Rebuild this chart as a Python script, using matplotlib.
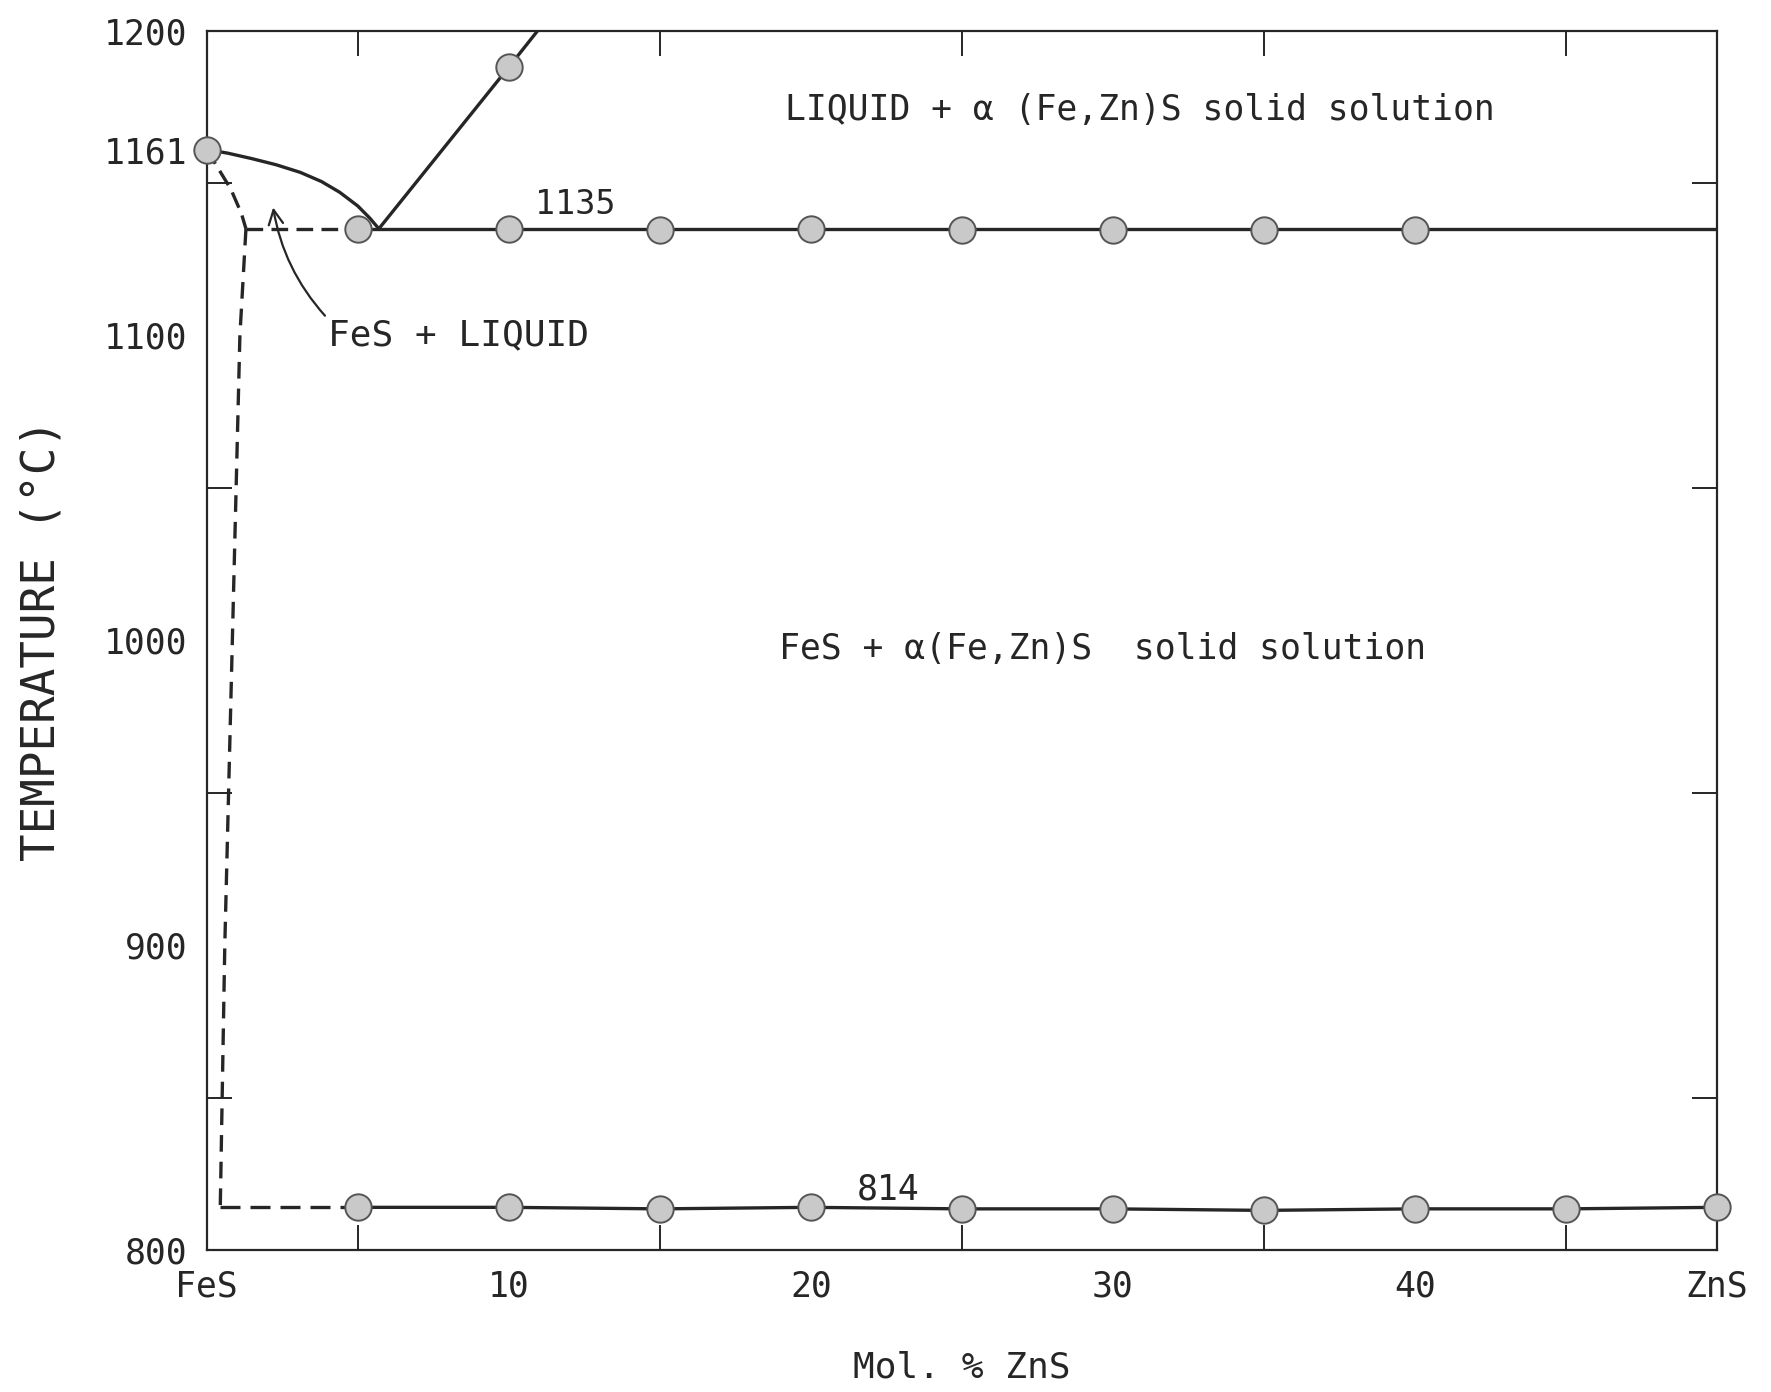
import matplotlib.pyplot as plt
import numpy as np

# --- data ---
# FeS-side liquidus (curved) from the FeS melting point down to the eutectic
feS_liq_x = [0.0, 0.7, 1.5, 2.3, 3.1, 3.8, 4.4, 5.0, 5.4, 5.7]
feS_liq_y = [1161, 1159.8, 1158, 1156, 1153.5, 1150.5, 1147, 1142.5, 1138.5, 1135]

# ZnS-side liquidus (straight) from the eutectic upward
zns_liq_x = [5.7, 10.0, 11.0]
zns_liq_y = [1135, 1188, 1200.5]

# dashed solidus of FeS
sol_x = [0.0, 0.8, 1.15, 1.3]
sol_y = [1161, 1148, 1140, 1135]

# dashed solvus going down from the eutectic
solvus_x = [1.3, 1.1, 0.85, 0.6, 0.45]
solvus_y = [1135, 1100, 1000, 900, 814]

# experimental points
melt_x = [0.0]
melt_y = [1161]
liq_pt_x = [10.0]
liq_pt_y = [1188]
eut_x = [5, 10, 15, 20, 25, 30, 35, 40]
eut_y = [1135, 1135, 1134.5, 1135, 1134.5, 1134.5, 1134.5, 1134.5]
low_x = [5, 10, 15, 20, 25, 30, 35, 40, 45, 50]
low_y = [814, 814, 813.5, 814, 813.5, 813.5, 813, 813.5, 813.5, 814]

eut_T = 1135
low_T = 814

x_ticks = [0, 10, 20, 30, 40, 50]
x_labels = ["FeS", "10", "20", "30", "40", "ZnS"]
y_ticks = [800, 900, 1000, 1100, 1161, 1200]
y_labels = ["800", "900", "1000", "1100", "1161", "1200"]

ink = "#262626"
dot_face = "#c9c9c9"
dot_edge = "#555555"
lw = 2.4

plt.rcParams['font.family'] = ['DejaVu Sans Mono', 'DejaVu Sans']

fig = plt.figure(figsize=(17.71, 13.92), dpi=100)
ax = fig.add_axes([0.1167, 0.102, 0.8528, 0.876])
ax.set_xlim(0, 50)
ax.set_ylim(800, 1200)

for s in ax.spines.values():
    s.set_color(ink)
    s.set_linewidth(1.6)

# lines
ax.plot(feS_liq_x, feS_liq_y, color=ink, lw=lw)
ax.plot(zns_liq_x, zns_liq_y, color=ink, lw=lw)
ax.plot(sol_x, sol_y, color=ink, lw=lw, dashes=(5, 2.5))
ax.plot(solvus_x, solvus_y, color=ink, lw=lw, dashes=(5, 3))
ax.plot([sol_x[-1], eut_x[0]], [eut_T, eut_T], color=ink, lw=lw, dashes=(5, 2.5))
ax.plot([eut_x[0], 50], [eut_T, eut_T], color=ink, lw=lw)
ax.plot([solvus_x[-1], low_x[0]], [low_T, low_T], color=ink, lw=lw, dashes=(6, 3))
ax.plot(low_x, low_y, color=ink, lw=lw)

# points
mk = dict(marker="o", ms=19, mfc=dot_face, mec=dot_edge, mew=1.4, ls="none", clip_on=False, zorder=5)
ax.plot(melt_x, melt_y, **mk)
ax.plot(liq_pt_x, liq_pt_y, **mk)
ax.plot(eut_x, eut_y, **mk)
ax.plot(low_x, low_y, **mk)

# ticks
fs = 25
ax.set_xticks(x_ticks)
ax.set_xticklabels(x_labels, fontsize=fs, color=ink)
ax.set_yticks(y_ticks)
ax.set_yticklabels(y_labels, fontsize=fs, color=ink)
ax.tick_params(axis="both", which="major", length=0, pad=14)
ax.set_xticks(np.arange(5, 50, 5), minor=True)
ax.set_yticks(np.arange(850, 1200, 50), minor=True)
ax.tick_params(axis="both", which="minor", direction="in", length=18, width=1.4,
               color=ink, top=True, right=True)

# labels
ax.set_ylabel("TEMPERATURE (°C)", fontsize=33, color=ink, labelpad=28)
ax.set_xlabel("Mol. % ZnS", fontsize=26, color=ink, labelpad=34)

ax.text(12.2, 1143, "1135", fontsize=24, color=ink, ha="center", va="center")
ax.text(22.55, 820, "814", fontsize=fs, color=ink, ha="center", va="center")
ax.text(19.15, 1174, "LIQUID + α (Fe,Zn)S solid solution", fontsize=fs, color=ink,
        ha="left", va="center")
ax.text(18.95, 997, "FeS + α(Fe,Zn)S  solid solution", fontsize=fs, color=ink,
        ha="left", va="center")
ax.annotate("FeS + LIQUID", xy=(2.2, 1142), xytext=(4.0, 1100), fontsize=26, color=ink,
            ha="left", va="center",
            arrowprops=dict(arrowstyle="->", color=ink, lw=1.6, shrinkA=0, shrinkB=0,
                            connectionstyle="arc3,rad=-0.15",
                            relpos=(0.0, 1.0)))

fig.savefig("out.png", dpi=100)
